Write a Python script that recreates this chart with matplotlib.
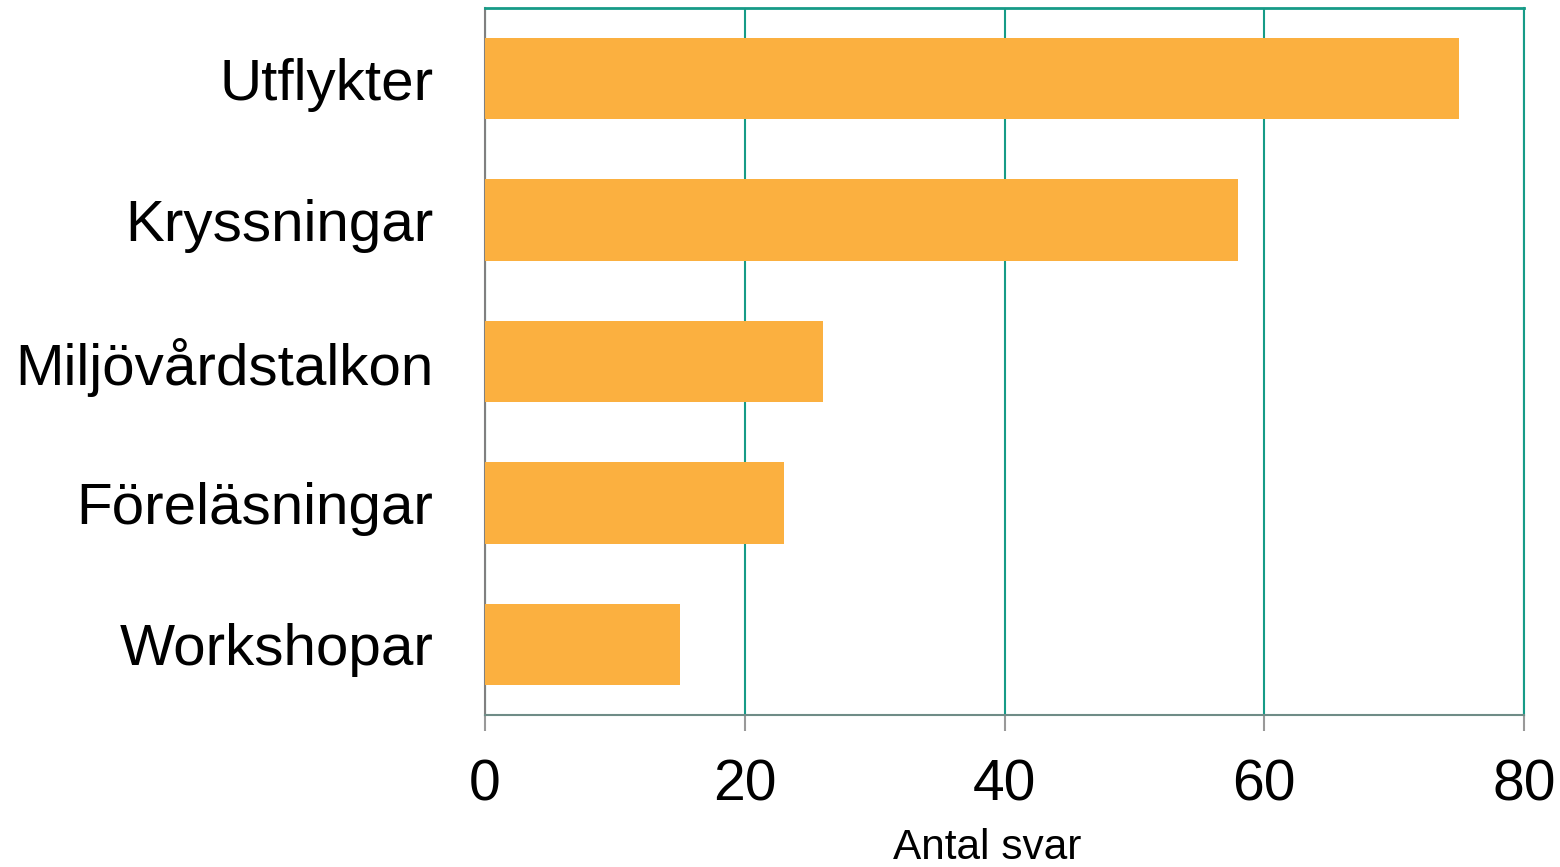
import matplotlib
matplotlib.use("Agg")
import matplotlib.pyplot as plt

plt.rcParams['font.family'] = ['Liberation Sans', 'DejaVu Sans']

categories = ["Utflykter", "Kryssningar", "Miljövårdstalkon", "Föreläsningar", "Workshopar"]
values = [75, 58, 26, 23, 15]
xticks = [0, 20, 40, 60, 80]
xlabel = "Antal svar"

bar_color = "#FBB040"
grid_color = "#169B87"
left_spine_color = "#808080"
bottom_spine_color = "#6F8C87"

fig = plt.figure(figsize=(15.6, 8.67), dpi=100)
ax = fig.add_axes([485/1560, 1-715/867, (1524-485)/1560, (715-8)/867])

ypos = list(range(len(categories)))
ax.barh(ypos, values, height=0.575, color=bar_color, zorder=3)
ax.set_ylim(len(categories)-0.5, -0.5)
ax.set_xlim(0, 80)
ax.set_xticks(xticks)
ax.set_xticklabels([str(t) for t in xticks], fontsize=41)
ax.set_yticks(ypos)
ax.set_yticklabels(categories, fontsize=42)

ax.grid(axis='x', color=grid_color, linewidth=1.5, zorder=1)
ax.grid(axis='y', visible=False)

ax.spines['top'].set_color(grid_color)
ax.spines['top'].set_linewidth(2)
ax.spines['right'].set_color(grid_color)
ax.spines['right'].set_linewidth(1.5)
ax.spines['left'].set_color(left_spine_color)
ax.spines['left'].set_linewidth(1.5)
ax.spines['bottom'].set_color(bottom_spine_color)
ax.spines['bottom'].set_linewidth(1.5)

ax.tick_params(axis='x', direction='out', length=11.5, width=1.5, color='#999999', pad=20)
ax.tick_params(axis='y', length=0, pad=37)

ax.set_xlabel(xlabel, fontsize=30.5)
ax.xaxis.set_label_coords((987-485)/1039, -(848-715)/707)
ax.xaxis.label.set_va('center')

fig.savefig("out.png", dpi=100)
